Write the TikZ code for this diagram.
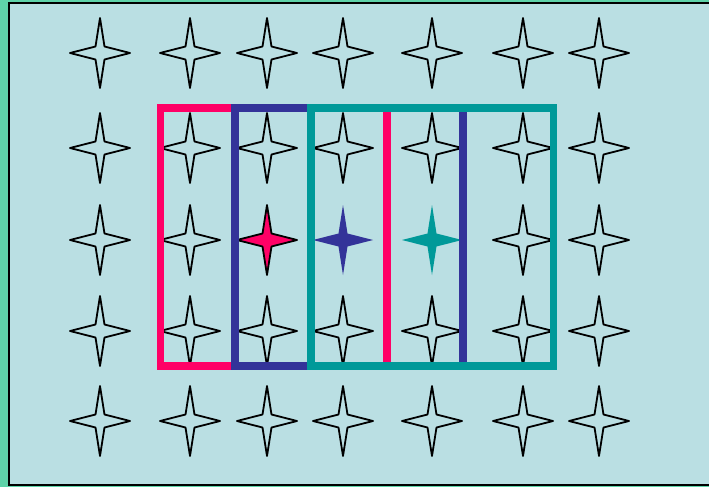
\documentclass[tikz,border=0pt]{standalone}
\usepackage{xcolor}
\usepackage{tikz}
\definecolor{mint}{HTML}{5FD3A9}
\definecolor{pool}{HTML}{BADFE3}
\definecolor{rosebar}{HTML}{FF0066}
\definecolor{indigobar}{HTML}{333399}
\definecolor{tealbar}{HTML}{009999}

\begin{document}
\begin{tikzpicture}[
  x=1pt, y=-1pt,
  sparkle/.pic = {
    \path[pic actions, line join=round]
      (0,-35) -- (4.5,-6.5) -- (30,0) -- (4.5,6.5) -- (0,35)
      -- (-4.5,6.5) -- (-30,0) -- (-4.5,-6.5) -- cycle;
  },
  plainstar/.style = {draw=black, line width=1.8pt, fill=none},
  window/.style  = {line width=7.5pt, line join=miter},
]

\useasboundingbox (0,0) rectangle (709,487);
\clip (0,0) rectangle (709,487);

% backdrop and frame
\fill[mint] (0,0) rectangle (709,487);
\draw[black, line width=2pt, fill=pool] (9,3) rectangle (720,485);

% grid of outlined stars, the middle three of row three are coloured
\foreach \x [count=\i] in {100,190,267,343,432,523,599} {
  \foreach \y [count=\j] in {53,148,240,331,421} {
    \ifnum\j=3
      \ifnum\i>2 \ifnum\i<6 \else
        \pic[plainstar] (s\i\j) at (\x,\y) {sparkle};
      \fi \else
        \pic[plainstar] (s\i\j) at (\x,\y) {sparkle};
      \fi
    \else
      \pic[plainstar] (s\i\j) at (\x,\y) {sparkle};
    \fi
  }
}

\pic[draw=black, line width=1.8pt, fill=rosebar] (hot1) at (267,240) {sparkle};
\pic[fill=indigobar] (hot2) at (343,240) {sparkle};
\pic[fill=tealbar] (hot3) at (432,240) {sparkle};

% sliding windows
\draw[window, rosebar]   (160.5,108) rectangle (387,366);
\draw[window, indigobar] (235,108) rectangle (463,366);
\draw[window, tealbar]   (311,108) rectangle (553.5,366);

\end{tikzpicture}
\end{document}
